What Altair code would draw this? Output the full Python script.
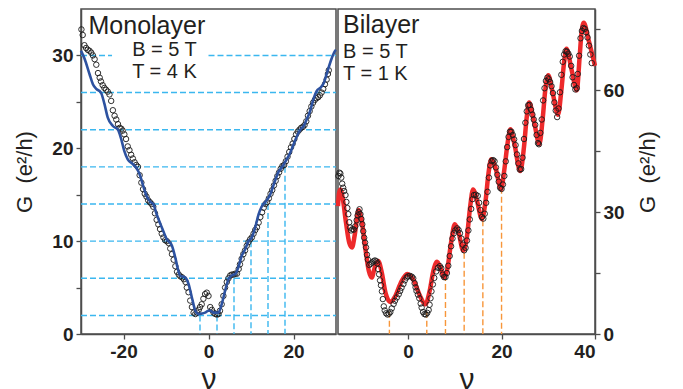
import altair as alt
import pandas as pd

FONT = "Liberation Sans"
INK = "#231f20"
FRAME = "#4d4d4d"
CYAN = "#3bb7ef"
ORANGE = "#f7963a"
BLUE = "#2d52a0"
RED = "#ee2a2b"

# ---------------- Monolayer (left panel) ----------------
MONO_FIT_NU = [-30, -29.2, -28, -27.2, -26.4, -25.3, -24.5, -23.7, -22.5, -21.3,
               -20.6, -19.8, -19, -17.8, -17, -16.2, -15.4, -14.6, -13.6, -13.0,
               -12.2, -11.0, -9.8, -8.6, -7.8, -7.2, -6.7, -5.5, -4.7, -3.9,
               -3.1, -2.4, -1.5, -0.8, 0.0, 0.4, 1.2, 2.35, 3.1, 3.9,
               4.7, 5.5, 6.3, 7.1, 7.8, 8.6, 9.4, 10.2, 11.0, 11.8,
               12.5, 13.5, 14.5, 15.5, 16.5, 17.2, 18.0, 19.2, 20.0, 20.8,
               21.6, 22.4, 23.1, 23.9, 24.7, 25.5, 26.3, 27.1, 27.8, 29.0,
               29.8, 30]
MONO_FIT_G = [30.5, 29.7, 28.0, 26.9, 26.4, 26.0, 24.8, 23.3, 22.4, 22.0,
              21.1, 19.7, 18.8, 18.3, 17.9, 17.2, 16.0, 14.9, 14.2, 14.0,
              12.9, 11.5, 10.2, 9.5, 8.2, 7.0, 6.3, 6.1, 5.4, 3.9,
              2.5, 2.15, 2.2, 2.3, 2.5, 2.5, 2.3, 2.3, 3.2, 4.65,
              5.9, 6.3, 6.45, 7.3, 8.4, 9.1, 10.0, 10.4, 11.5, 12.9,
              13.7, 14.3, 15.0, 16.3, 17.5, 17.9, 18.5, 19.5, 20.4, 21.3,
              22.0, 22.4, 23.1, 24.0, 25.3, 26.2, 26.5, 27.0, 28.0, 29.7,
              30.5, 30.6]

MONO_PTS_NU = [-29.9, -29.6, -29.2, -28.8, -28.4, -28.0, -27.6, -27.2, -26.8, -26.4,
               -26.0, -25.6, -25.3, -24.9, -24.5, -24.1, -23.7, -23.3, -22.9, -22.5,
               -22.1, -21.7, -21.3, -20.9, -20.5, -20.2, -19.8, -19.4, -19.0, -18.6,
               -18.2, -17.8, -17.4, -17.0, -16.6, -16.2, -15.8, -15.4, -15.0, -14.6,
               -14.2, -13.8, -13.4, -13.0, -12.6, -12.2, -11.8, -11.4, -11.0, -10.6,
               -10.2, -9.8, -9.4, -9.0, -8.6, -8.2, -7.8, -7.4, -7.0, -6.6,
               -6.2, -5.8, -5.4, -5.1, -4.7, -4.3, -3.9, -3.5, -3.1, -2.7,
               -2.3, -2.0, -1.6, -1.2, -0.8, -0.4, 0.0, 0.4, 0.8, 1.2,
               1.6, 2.0, 2.35, 2.7, 3.1, 3.5, 3.9, 4.3, 4.7, 5.1,
               5.5, 5.9, 6.3, 6.7, 7.1, 7.4, 7.8, 8.2, 8.6, 9.0,
               9.4, 9.8, 10.2, 10.6, 11.0, 11.4, 11.8, 12.2, 12.6, 13.0,
               13.4, 13.8, 14.2, 14.6, 15.0, 15.4, 15.8, 16.2, 16.6, 17.0,
               17.4, 17.8, 18.2, 18.6, 19.0, 19.4, 19.8, 20.2, 20.6, 21.0,
               21.4, 21.8, 22.2, 22.6, 23.0, 23.4, 23.8, 24.2, 24.6, 25.0,
               25.4, 25.8, 26.2, 26.6, 27.0, 27.4, 27.8, 28.1, 28.3]
MONO_PTS_G = [32.8, 32.2, 31.1, 30.8, 30.6, 30.5, 30.3, 30.0, 29.6, 29.0,
              28.1, 27.6, 27.2, 26.8, 26.5, 26.3, 26.1, 25.8, 25.1, 24.1,
              23.5, 23.1, 22.6, 22.2, 22.1, 21.9, 21.5, 21.0, 20.2, 19.8,
              19.3, 18.9, 18.5, 18.2, 18.0, 17.1, 16.3, 15.6, 15.1, 14.8,
              14.4, 14.2, 14.0, 13.7, 13.0, 12.3, 11.8, 11.3, 10.8, 10.4,
              10.1, 10.0, 9.8, 9.2, 8.6, 8.0, 7.3, 6.7, 6.4, 6.2,
              6.1, 5.9, 5.6, 5.0, 4.5, 3.6, 2.9, 2.3, 2.15, 2.3,
              2.6, 2.9, 3.2, 3.8, 4.3, 4.45, 4.1, 2.9, 2.6, 2.3,
              2.15, 2.1, 2.15, 2.5, 3.2, 4.1, 5.0, 5.6, 6.0, 6.3,
              6.4, 6.4, 6.5, 6.5, 7.0, 7.5, 8.1, 8.6, 9.0, 9.5,
              9.9, 10.2, 10.4, 10.8, 11.2, 11.5, 12.0, 12.6, 13.1, 13.6,
              14.0, 14.2, 14.6, 15.1, 15.5, 16.0, 16.5, 17.0, 17.4, 17.8,
              18.1, 18.2, 18.6, 19.1, 19.6, 20.1, 20.5, 21.0, 21.5, 21.8,
              22.0, 22.2, 22.3, 22.5, 22.9, 23.5, 24.0, 24.5, 24.9, 25.2,
              25.4, 25.5, 25.7, 26.0, 26.4, 26.9, 27.4, 28.0, 28.4]

CYAN_H_LEVEL = [2, 6, 10, 14, 18, 22, 26, 30, 30]
CYAN_H_START = [-30, -30, -30, -30, -30, -30, -30, -30, 0]
CYAN_H_END = [30, 30, 30, 30, 30, 30, 30, -22.7, 30]
CYAN_V_NU = [-2, 2, 6, 10, 14, 18]
CYAN_V_TOP = [2, 2, 6, 10, 14, 18]

# ---------------- Bilayer (right panel) ----------------
BI_FIT_NU = [-15, -14.8, -14.5, -14.0, -13.3, -12.6, -12.0, -11.4, -10.6, -10.0,
             -9.2, -8.4, -7.8, -7.1, -6.4, -5.7, -4.8, -3.8, -2.8, -1.6,
             -0.2, 1.2, 2.5, 3.7, 4.6, 5.4, 6.2, 7.0, 7.7, 8.4,
             9.2, 10.0, 10.8, 11.8, 12.6, 13.3, 13.9, 14.7, 15.8, 16.6,
             17.2, 17.8, 18.8, 19.9, 20.6, 21.3, 21.9, 22.8, 24.0, 24.8,
             25.4, 25.9, 27.0, 28.1, 28.8, 29.4, 30.0, 31.0, 32.1, 32.8,
             33.4, 33.9, 35.0, 36.1, 36.7, 37.1, 37.6, 38.6, 40.0]
BI_FIT_G = [31.5, 34.5, 35.6, 33.5, 27.5, 22.5, 21.3, 24.5, 30.5, 28.5,
            21.5, 15.5, 13.9, 16.5, 18.0, 15.5, 10.0, 7.9, 9.2, 12.5,
            14.8, 13.2, 9.5, 7.3, 10.5, 15.5, 17.8, 16.0, 13.9, 16.0,
            22.5, 27.0, 25.0, 20.5, 24.0, 31.5, 35.6, 33.0, 28.3, 33.0,
            39.5, 43.0, 40.5, 35.6, 40.5, 47.0, 50.4, 46.5, 40.1, 46.0,
            53.5, 57.0, 52.0, 46.7, 53.0, 60.5, 63.7, 59.0, 54.0, 60.0,
            67.0, 70.2, 65.0, 60.0, 68.0, 74.0, 76.6, 72.5, 66.0]

BI_PTS_NU = [-14.9, -14.7, -14.5, -14.3, -14.1, -13.9, -13.7, -13.4, -13.2, -13.0,
             -12.8, -12.6, -12.4, -12.2, -11.9, -11.6, -11.3, -11.0, -10.8, -10.6,
             -10.4, -10.2, -10.0, -9.8, -9.6, -9.4, -9.2, -9.0, -8.8, -8.6,
             -8.3, -8.0, -7.7, -7.4, -7.1, -6.8, -6.6, -6.4, -6.2, -6.0,
             -5.8, -5.6, -5.4, -5.2, -5.0, -4.7, -4.4, -4.1, -3.8, -3.5,
             -3.1, -2.8, -2.4, -2.0, -1.7, -1.4, -1.0, -0.7, -0.3, 0.0,
             0.4, 0.8, 1.1, 1.4, 1.6, 1.8, 2.1, 2.4, 2.7, 2.9,
             3.2, 3.5, 3.8, 4.1, 4.4, 4.6, 4.8, 5.0, 5.3, 5.6,
             6.0, 6.4, 6.8, 7.1, 7.4, 7.7, 8.0, 8.3, 8.6, 8.9,
             9.2, 9.5, 9.8, 10.1, 10.5, 10.8, 11.1, 11.4, 11.7, 12.0,
             12.3, 12.6, 12.9, 13.2, 13.5, 13.8, 14.1, 14.5, 14.9, 15.2,
             15.5, 15.8, 16.1, 16.4, 16.7, 17.0, 17.3, 17.6, 17.9, 18.2,
             18.5, 18.8, 19.1, 19.4, 19.7, 20.0, 20.3, 20.6, 20.9, 21.2,
             21.5, 21.8, 22.1, 22.4, 22.7, 23.0, 23.3, 23.6, 23.9, 24.2,
             24.5, 24.8, 25.1, 25.4, 25.7, 26.0, 26.3, 26.6, 26.9, 27.2,
             27.5, 27.8, 28.0, 28.3, 28.6, 28.9, 29.2, 29.5, 29.8, 30.1,
             30.4, 30.7, 31.0, 31.3, 31.6, 31.9, 32.2, 32.5, 32.8, 33.1,
             33.4, 33.7, 34.0, 34.3, 34.6, 34.9, 35.2, 35.5, 35.8, 36.1,
             36.3, 36.6, 36.9, 37.2, 37.5, 37.8, 38.1, 38.4, 38.7, 39.0,
             39.3]
BI_PTS_G = [38.9, 39.7, 39.5, 38.5, 37.0, 36.0, 35.2, 34.2, 32.5, 31.0,
            29.5, 27.5, 26.2, 25.5, 25.8, 25.7, 26.5, 28.0, 29.2, 30.0,
            30.7, 29.5, 28.3, 27.0, 25.3, 23.7, 22.5, 21.3, 19.5, 18.3,
            17.0, 17.3, 17.6, 17.9, 18.1, 17.9, 17.4, 16.0, 14.7, 13.2,
            12.0, 10.5, 8.6, 6.8, 5.8, 5.1, 4.8, 5.0, 5.4, 6.3,
            7.4, 8.2, 9.0, 9.8, 10.6, 11.4, 12.3, 13.2, 13.9, 14.2,
            14.3, 14.1, 13.7, 12.5, 11.5, 10.6, 9.7, 8.8, 7.5, 6.5,
            5.4, 4.9, 4.8, 5.2, 5.9, 7.2, 8.8, 10.5, 12.2, 13.8,
            15.4, 16.3, 16.7, 16.2, 14.6, 14.0, 14.0, 15.0, 16.8, 19.2,
            21.6, 23.5, 24.8, 25.5, 26.0, 25.6, 24.8, 23.5, 22.0, 20.6,
            21.2, 23.0, 25.5, 28.2, 30.8, 33.2, 34.2, 34.3, 34.0, 32.3,
            30.5, 28.8, 28.4, 29.6, 32.3, 35.0, 38.5, 41.5, 42.6, 42.8,
            42.5, 41.0, 39.2, 37.5, 36.0, 35.7, 36.8, 38.9, 42.5, 46.0,
            48.5, 49.8, 49.8, 49.0, 47.9, 46.5, 44.2, 42.0, 40.5, 40.6,
            43.4, 48.0, 52.0, 54.8, 56.3, 56.4, 55.2, 54.0, 52.8, 51.5,
            49.0, 47.0, 46.7, 49.5, 52.8, 57.5, 60.5, 62.3, 63.1, 62.7,
            62.0, 61.0, 59.3, 57.0, 55.0, 53.4, 55.5, 59.5, 63.8, 67.0,
            68.8, 69.6, 69.5, 69.0, 68.3, 66.0, 63.2, 61.3, 60.2, 60.5,
            64.0, 68.5, 72.8, 74.6, 75.3, 75.1, 74.3, 73.0, 71.0, 68.8,
            66.7]

ORANGE_V_NU = [-4, 4, 8, 12, 16, 20]
ORANGE_V_TOP = [5.5, 5.5, 14.5, 20, 28, 36]

Y_TITLE = "G\u00a0\u00a0(e²/h)"

# ---------------- axes ----------------
AX = dict(labelFont=FONT, labelFontSize=19, labelFontWeight="bold", labelColor=INK,
          titleFont=FONT, titleFontWeight="normal", titleColor=INK,
          domainColor=FRAME, domainWidth=1.5, tickColor=FRAME, tickWidth=1.3,
          tickSize=5, labelPadding=3, grid=False)
XAX = dict(AX, title="ν", titleFontSize=30, titlePadding=3,
           labelExpr="'' + datum.value")


def x_enc(domain, ticks):
    return alt.X("nu:Q", scale=alt.Scale(domain=domain, nice=False, zero=False),
                 axis=alt.Axis(values=ticks, **XAX))


def y_enc(domain, ticks, major, orient):
    extra = dict(orient=orient, title=Y_TITLE, titleFontSize=22,
                 labelExpr=f"datum.value % {major} == 0 ? '' + datum.value : ''")
    if orient == "right":
        extra.update(titleAngle=270, titleBaseline="top", titlePadding=13)
    else:
        extra.update(titlePadding=15)
    return alt.Y("G:Q", scale=alt.Scale(domain=domain, nice=False, zero=True),
                 axis=alt.Axis(values=ticks, **AX, **extra))


def label(text, x, y, size, align="left"):
    return alt.Chart(pd.DataFrame({"t": [text]})).mark_text(
        font=FONT, fontSize=size, color=INK, align=align, baseline="alphabetic"
    ).encode(x=alt.value(x), y=alt.value(y), text="t:N")


# ---- left panel
xL = x_enc([-30, 30], [-20, 0, 20])
yL = y_enc([0, 35], [0, 5, 10, 15, 20, 25, 30], 10, "left")

hseg = pd.DataFrame({"nu": CYAN_H_START, "nu_end": CYAN_H_END, "G": CYAN_H_LEVEL})
vseg = pd.DataFrame({"nu": CYAN_V_NU, "G": CYAN_V_TOP, "G0": [0] * len(CYAN_V_NU)})

h_rules = alt.Chart(hseg).mark_rule(color=CYAN, strokeWidth=1.4, strokeDash=[6, 3]).encode(
    x=xL, x2="nu_end:Q", y=yL)
v_rules = alt.Chart(vseg).mark_rule(color=CYAN, strokeWidth=1.4, strokeDash=[6, 3]).encode(
    x=xL, y=yL, y2="G0:Q")
mono_pts = alt.Chart(pd.DataFrame({"nu": MONO_PTS_NU, "G": MONO_PTS_G})).mark_point(
    shape="circle", filled=False, size=30, strokeWidth=0.9, color="#1a1a1a", opacity=1
).encode(x=xL, y=yL)
mono_fit = alt.Chart(pd.DataFrame({"nu": MONO_FIT_NU, "G": MONO_FIT_G})).mark_line(
    color=BLUE, strokeWidth=2.6, interpolate="monotone").encode(x=xL, y=yL)

left = alt.layer(
    h_rules, v_rules, mono_pts, mono_fit,
    label("Monolayer", 7.5, 25, 25),
    label("B = 5 T", 83.5, 47, 20, "center"),
    label("T = 4 K", 83.5, 69, 20, "center"),
).properties(width=255, height=325)

# ---- right panel
xR = x_enc([-15, 40], [0, 20, 40])
yR = y_enc([0, 80], [0, 15, 30, 45, 60, 75], 30, "right")

oseg = pd.DataFrame({"nu": ORANGE_V_NU, "G": ORANGE_V_TOP, "G0": [0] * len(ORANGE_V_NU)})
o_rules = alt.Chart(oseg).mark_rule(color=ORANGE, strokeWidth=1.4, strokeDash=[6, 3]).encode(
    x=xR, y=yR, y2="G0:Q")
bi_fit = alt.Chart(pd.DataFrame({"nu": BI_FIT_NU, "G": BI_FIT_G})).mark_line(
    color=RED, strokeWidth=4.5, interpolate="monotone").encode(x=xR, y=yR)
bi_pts = alt.Chart(pd.DataFrame({"nu": BI_PTS_NU, "G": BI_PTS_G})).mark_point(
    shape="circle", filled=False, size=30, strokeWidth=0.9, color="#1a1a1a", opacity=1
).encode(x=xR, y=yR)

right = alt.layer(
    o_rules, bi_fit, bi_pts,
    label("Bilayer", 5, 24, 25),
    label("B = 5 T", 5, 49, 20),
    label("T = 1 K", 5, 70.5, 20),
).properties(width=257, height=325)

chart = alt.hconcat(left, right, spacing=2, bounds="flush").properties(
    padding={"left": 5, "top": 0, "right": 5, "bottom": 0},
    background="white",
).configure_view(stroke=FRAME, strokeWidth=1.5)

chart.save("out.html", embed_options={"renderer": "svg", "actions": False})
